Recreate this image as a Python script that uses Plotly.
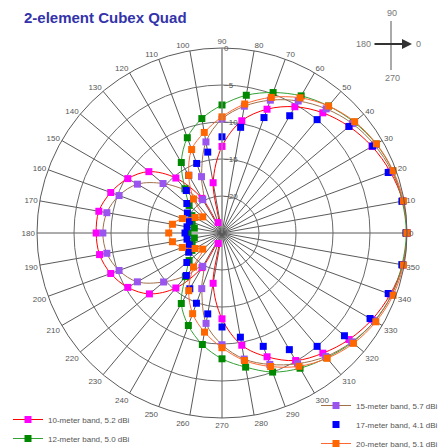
import plotly.graph_objects as go

angles = list(range(0, 360, 10))
angle_labels = [str(a) for a in angles]
radial_ticks = [-20, -15, -10, -5, 0]

band_10m = [0, -0.2, -0.8, -1.6, -2.6, -3.8, -5.3, -7.2, -9.6, -13.3, -18.1, -23.5,
            -19.6, -15.3, -12.1, -10.3, -9.0, -8.1, -8.0, -8.2, -9.0, -10.3, -12.2, -15.3,
            -19.6, -23.5, -18.1, -13.4, -9.6, -7.2, -5.1, -3.8, -2.6, -1.6, -0.8, -0.2]
band_12m = [-0.1, -0.27, -0.46, -0.95, -1.7, -2.6, -3.6, -4.8, -6.1, -7.7, -9.3, -11.3,
            -14.0, -17.2, -19.2, -20.3, -20.7, -21.2, -20.4, -21.2, -20.7, -20.3, -19.2, -17.3,
            -14.0, -11.7, -9.7, -8.0, -6.6, -5.0, -3.9, -3.0, -2.0, -1.2, -0.6, -0.3]
band_15m = [0, -0.2, -0.6, -1.2, -2.0, -3.1, -4.4, -5.9, -7.6, -9.6, -12.5, -16.9,
            -19.8, -17.5, -14.6, -11.8, -10.2, -9.2, -8.9, -9.2, -10.2, -11.8, -14.7, -17.5,
            -19.8, -17.0, -12.6, -9.9, -7.7, -6.1, -4.6, -3.2, -2.1, -1.2, -0.6, -0.2]
band_17m = [-0.1, -0.3, -1.1, -1.5, -2.6, -5.0, -6.7, -8.4, -10.5, -12.0, -13.9, -15.0,
            -16.0, -17.5, -18.8, -19.6, -20.3, -20.2, -20.0, -20.2, -20.3, -19.8, -18.8, -17.5,
            -16.3, -14.9, -13.9, -12.3, -10.7, -8.7, -6.8, -5.0, -3.4, -1.9, -1.1, -0.3]
band_20m = [0, -0.1, -0.4, -0.9, -1.6, -2.6, -3.9, -5.5, -7.3, -9.3, -11.2, -13.0,
            -16.0, -19.0, -21.6, -20.8, -19.3, -18.2, -17.8, -18.2, -19.3, -20.8, -21.6, -19.0,
            -16.0, -13.4, -11.4, -9.5, -7.5, -5.8, -4.2, -2.9, -1.8, -1.0, -0.4, -0.1]

names = ["10-meter band, 5.2 dBi", "12-meter band, 5.0 dBi", "15-meter band, 5.7 dBi",
         "17-meter band, 4.1 dBi", "20-meter band, 5.1 dBi"]
series = [band_10m, band_12m, band_15m, band_17m, band_20m]
marker_colors = ["#ff00ff", "#008800", "#9955ee", "#0000ff", "#ff6600"]
line_colors = ["#ff0000", "#33a033", "#a0704a", "rgba(0,0,0,0)", "#ff6633"]
modes = ["lines+markers", "lines+markers", "lines+markers", "markers", "lines+markers"]
legends = ["legend", "legend", "legend2", "legend2", "legend2"]

W, H = 444, 448
def px(x):
    return x / W
def py(y):
    return 1 - y / H

fig = go.Figure()
for vals, name, mc, lc, mode, lg in zip(series, names, marker_colors, line_colors, modes, legends):
    fig.add_trace(go.Scatterpolar(
        r=vals + vals[:1], theta=angles + angles[:1], name=name, mode=mode,
        line=dict(color=lc, width=1, shape="spline"),
        marker=dict(symbol="square", size=7, color=mc),
        legend=lg,
    ))

fig.update_layout(
    width=W, height=H,
    margin=dict(l=0, r=0, t=0, b=0, autoexpand=False),
    paper_bgcolor="white",
    font=dict(family="Liberation Sans, Arial", color="#555555"),
    polar=dict(
        domain=dict(x=[px(37), px(407)], y=[py(418), py(48)]),
        gridshape="linear",
        bgcolor="white",
        radialaxis=dict(range=[-25, 0], tickvals=radial_ticks, angle=90, tickangle=90,
                        tickfont=dict(size=8, color="#555555"), gridcolor="#6a6a6a", gridwidth=1,
                        showline=True, linecolor="#999999", ticks=""),
        angularaxis=dict(tickmode="array", tickvals=angles, ticktext=angle_labels,
                         direction="counterclockwise",
                         rotation=0, gridcolor="#5a5a5a", linecolor="#5a5a5a", linewidth=1,
                         tickfont=dict(size=8, color="#555555"), ticks=""),
    ),
    legend=dict(x=px(8), y=py(405), xanchor="left", yanchor="top", font=dict(size=8, color="#555555"),
                bgcolor="rgba(0,0,0,0)", tracegroupgap=0),
    legend2=dict(x=px(316), y=py(391), xanchor="left", yanchor="top", font=dict(size=8, color="#555555"),
                 bgcolor="rgba(0,0,0,0)", tracegroupgap=0),
    showlegend=True,
)

fig.add_annotation(x=px(22), y=py(18), xref="paper", yref="paper", xanchor="left", yanchor="middle",
                   text="<b>2-element Cubex Quad</b>", showarrow=False,
                   font=dict(size=15, color="#3333aa", family="Liberation Sans, Arial"))

# compass
fig.add_shape(type="line", xref="paper", yref="paper", x0=px(391), x1=px(391), y0=py(21), y1=py(70),
              line=dict(color="#aaaaaa", width=2))
fig.add_annotation(x=px(412), y=py(44), xref="paper", yref="paper", ax=-39, ay=0, text="",
                   showarrow=True, arrowhead=2, arrowsize=1, arrowwidth=2, arrowcolor="#333333")
for txt, x, y in [("90", 392, 13), ("180", 363, 44), ("0", 418, 44), ("270", 392, 78)]:
    fig.add_annotation(x=px(x), y=py(y), xref="paper", yref="paper", text=txt, showarrow=False,
                       xanchor="center", yanchor="middle",
                       font=dict(size=9, color="#777777"))

fig.write_html("out.html", config={"displayModeBar": False},
               post_script="document.body.style.margin='0';document.body.style.padding='0';")
